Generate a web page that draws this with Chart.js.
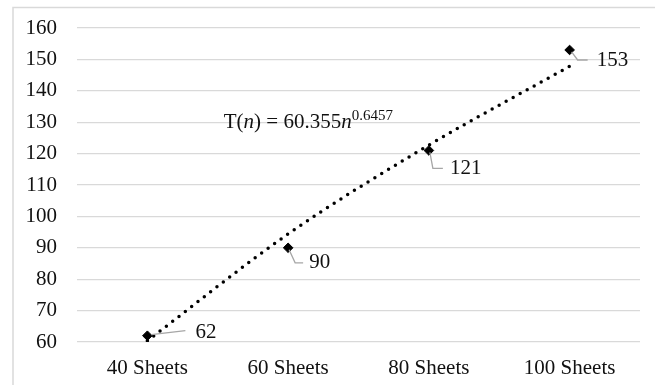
<!DOCTYPE html>
<html>
<head>
<meta charset="utf-8">
<script src="https://cdn.jsdelivr.net/npm/chart.js@4/dist/chart.umd.min.js"></script>
<style>
  html, body { margin: 0; padding: 0; background: #fff; }
  #wrap { width: 655px; height: 385px; position: relative; }
</style>
</head>
<body>
<div id="wrap"><canvas id="c" width="655" height="385"></canvas></div>
<script>
const categories = ["40 Sheets", "60 Sheets", "80 Sheets", "100 Sheets"];
const timeValues = [62, 90, 121, 153];
const trendValues = [60.4, 94.4, 122.7, 147.8];
const yTicks = [60, 70, 80, 90, 100, 110, 120, 130, 140, 150, 160];
const equationParts = ["T(", "n", ") = 60.355", "n", "0.6457"];

const FONT = "'Liberation Serif', 'Times New Roman', serif";
const GRID = "#d9d9d9";
const TEXT = "#111";

const framePlugin = {
  id: "frame",
  beforeDraw(chart) {
    const ctx = chart.ctx;
    ctx.save();
    ctx.fillStyle = "#fff";
    ctx.fillRect(0, 0, chart.width, chart.height);
    ctx.strokeStyle = GRID;
    ctx.lineWidth = 1.5;
    ctx.beginPath();
    ctx.moveTo(13, chart.height);
    ctx.lineTo(13, 7.5);
    ctx.lineTo(chart.width, 7.5);
    ctx.stroke();
    ctx.restore();
  }
};

// leader line shapes relative to each point: polyline, text left offset, text center offset
const leaderShapes = [
  { path: [[4, -1], [38, -5]], tx: 48, ty: -3 },
  { path: [[1, 2], [7, 15], [15, 15]], tx: 21, ty: 15 },
  { path: [[1, 2], [4, 18], [14, 18]], tx: 21, ty: 18 },
  { path: [[2, 2], [8, 10], [18, 10]], tx: 27, ty: 11 }
];

const labelPlugin = {
  id: "labels",
  afterDatasetsDraw(chart) {
    const ctx = chart.ctx;
    const meta = chart.getDatasetMeta(1);
    ctx.save();
    meta.data.forEach((pt, i) => {
      const s = leaderShapes[i];
      ctx.strokeStyle = "#a6a6a6";
      ctx.lineWidth = 1.3;
      ctx.beginPath();
      s.path.forEach((p, k) => {
        const x = pt.x + p[0], y = pt.y + p[1];
        if (k === 0) ctx.moveTo(x, y); else ctx.lineTo(x, y);
      });
      ctx.stroke();
      ctx.fillStyle = TEXT;
      ctx.font = "21px " + FONT;
      ctx.textAlign = "left";
      ctx.textBaseline = "middle";
      ctx.fillText(String(timeValues[i]), pt.x + s.tx, pt.y + s.ty);
    });
    // trendline equation
    const xs = chart.scales.x, ys = chart.scales.y;
    let x = (xs.getPixelForValue(0) + xs.getPixelForValue(1)) / 2 + 6;
    const base = ys.getPixelForValue(128);
    ctx.textBaseline = "alphabetic";
    ctx.fillStyle = TEXT;
    const styles = ["21px ", "italic 21px ", "21px ", "italic 21px ", "15px "];
    equationParts.forEach((t, k) => {
      ctx.font = styles[k] + FONT;
      const y = k === 4 ? base - 8 : base;
      ctx.fillText(t, x, y);
      x += ctx.measureText(t).width;
    });
    ctx.restore();
  }
};

new Chart(document.getElementById("c"), {
  type: "line",
  data: {
    labels: categories,
    datasets: [
      {
        label: "Power trendline",
        data: trendValues,
        borderColor: "#000",
        borderWidth: 3.5,
        borderDash: [0, 8],
        borderCapStyle: "round",
        cubicInterpolationMode: "monotone",
        pointRadius: 0,
        fill: false
      },
      {
        label: "Time",
        data: timeValues,
        showLine: false,
        pointStyle: "rectRot",
        pointRadius: 4.8,
        pointBackgroundColor: "#000",
        pointBorderColor: "#000",
        pointBorderWidth: 1
      }
    ]
  },
  options: {
    responsive: false,
    animation: false,
    events: [],
    layout: { padding: { left: 0, right: 15, top: 28, bottom: 0 } },
    plugins: { legend: { display: false }, tooltip: { enabled: false } },
    scales: {
      x: {
        type: "category",
        offset: true,
        grid: { display: false, drawTicks: false },
        border: { display: false },
        ticks: { padding: 14, color: TEXT, font: { family: FONT, size: 21 } },
        afterFit(axis) { axis.height = 43; axis.paddingLeft = 0; axis.paddingRight = 0; }
      },
      y: {
        min: 60,
        max: 160,
        afterBuildTicks(axis) { axis.ticks = yTicks.map(v => ({ value: v })); },
        grid: { color: GRID, lineWidth: 1.3, drawTicks: false },
        border: { display: false },
        ticks: { padding: 20, color: TEXT, font: { family: FONT, size: 21 } },
        afterFit(axis) { axis.width = 77; axis.paddingTop = 0; axis.paddingBottom = 0; }
      }
    }
  },
  plugins: [framePlugin, labelPlugin]
});
</script>
</body>
</html>
